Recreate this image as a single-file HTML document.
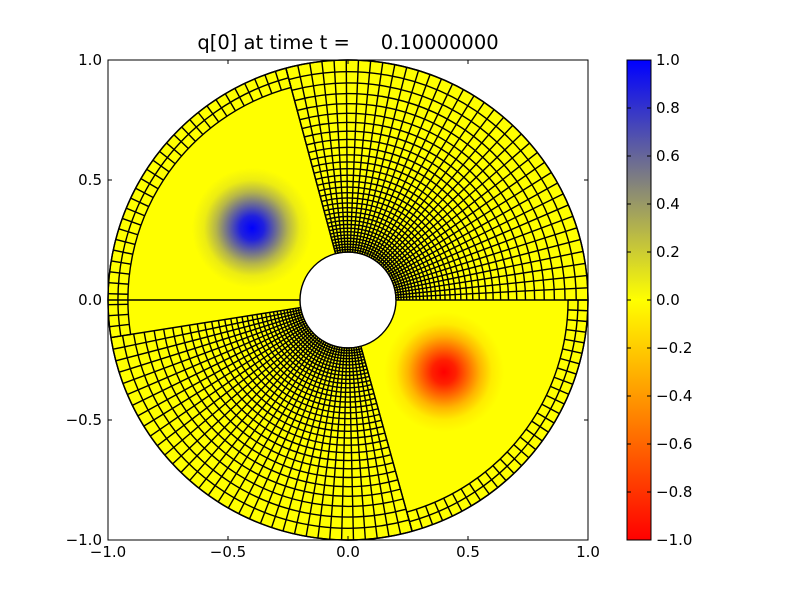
<!DOCTYPE html>
<html><head><meta charset="utf-8"><style>
body{margin:0;background:#fff;width:800px;height:600px;overflow:hidden}
svg{display:block;font-family:"DejaVu Sans","Liberation Sans",sans-serif}
text{white-space:pre}
</style></head><body>
<svg id="c" width="800" height="600" viewBox="0 0 800 600">
<defs>
<radialGradient id="gBlue"><stop offset="0" stop-color="#0000ff"/><stop offset="0.2" stop-color="#2020df"/><stop offset="0.4" stop-color="#6a6a95"/><stop offset="0.6" stop-color="#b5b54a"/><stop offset="0.8" stop-color="#ecec13"/><stop offset="1" stop-color="#ffff00"/></radialGradient>
<radialGradient id="gRed"><stop offset="0" stop-color="#ff0000"/><stop offset="0.2" stop-color="#ff2000"/><stop offset="0.4" stop-color="#ff6a00"/><stop offset="0.6" stop-color="#ffb500"/><stop offset="0.8" stop-color="#ffec00"/><stop offset="1" stop-color="#ffff00"/></radialGradient>
<linearGradient id="gBar" x1="0" y1="0" x2="0" y2="1"><stop offset="0" stop-color="#0000ff"/><stop offset="0.5" stop-color="#ffff00"/><stop offset="1" stop-color="#ff0000"/></linearGradient>
</defs>
<text x="348" y="49" text-anchor="middle" font-size="19.5">q[0] at time t =     0.10000000</text>
<g id="plot"></g>
<rect x="108" y="60" width="480" height="480" fill="none" stroke="#000" stroke-width="1"/>
<g id="axes"></g>
<rect x="627" y="60" width="24" height="480" fill="url(#gBar)" stroke="#000" stroke-width="1"/>
<g id="cbar"></g>
</svg>
<script>
const xTicks=[-1.0,-0.5,0.0,0.5,1.0];
const yTicks=[-1.0,-0.5,0.0,0.5,1.0];
const cbTicks=[1.0,0.8,0.6,0.4,0.2,0.0,-0.2,-0.4,-0.6,-0.8,-1.0];
const rInner=0.2, rOuter=1.0, rRing=0.917;
const finePatchA=[0,105], finePatchC=[189,285.5];
const finePatchACells=36, finePatchCCells=34, fineRows=32;
const coarseB=[105,180], coarseSliver=[180,189], coarseD=[285.5,360];
const ringBCells=32, ringDCells=29;
const blobX=[-0.4,0.4], blobY=[0.3,-0.3], blobValue=[1,-1], blobRadius=[0.25,0.25];

const NS='http://www.w3.org/2000/svg';
const sx=x=>348+240*x, sy=y=>300-240*y;
const rad=d=>d*Math.PI/180;
const px=(r,a)=>sx(r*Math.cos(rad(a))), py=(r,a)=>sy(r*Math.sin(rad(a)));
function mk(tag,attrs,parent){const e=document.createElementNS(NS,tag);for(const k in attrs)e.setAttribute(k,attrs[k]);parent.appendChild(e);return e;}
function arc(r,a0,a1){return `M${px(r,a0)},${py(r,a0)} A${240*r},${240*r} 0 ${a1-a0>180?1:0} 0 ${px(r,a1)},${py(r,a1)}`;}
function wedge(r0,r1,a0,a1){return `M${px(r0,a0)},${py(r0,a0)} L${px(r1,a0)},${py(r1,a0)} A${240*r1},${240*r1} 0 ${a1-a0>180?1:0} 0 ${px(r1,a1)},${py(r1,a1)} L${px(r0,a1)},${py(r0,a1)} A${240*r0},${240*r0} 0 ${a1-a0>180?1:0} 1 ${px(r0,a0)},${py(r0,a0)} Z`;}
const plot=document.getElementById('plot');
const ann=mk('path',{d:`M${sx(1)},300 A240,240 0 1 0 ${sx(-1)},300 A240,240 0 1 0 ${sx(1)},300 Z M${sx(0.2)},300 A48,48 0 1 1 ${sx(-0.2)},300 A48,48 0 1 1 ${sx(0.2)},300 Z`,fill:'#ffff00','fill-rule':'evenodd'},plot);


const defs=document.querySelector('defs');
const clips=[[rInner,rRing,coarseB[0],coarseSliver[1]],[rInner,rRing,coarseD[0],coarseD[1]]];
for(let i=0;i<blobX.length;i++){
  const cp=mk('clipPath',{id:'clip'+i},defs);
  mk('path',{d:wedge(...clips[i])},cp);
  const c=mk('circle',{cx:sx(blobX[i]),cy:sy(blobY[i]),r:240*blobRadius[i],fill:blobValue[i]>0?'url(#gBlue)':'url(#gRed)','clip-path':`url(#clip${i})`},plot);
  
  
}
const grid=mk('g',{stroke:'#000','stroke-width':1.4,fill:'none'},plot);


function finePatch(a0,a1,n){
  for(let i=0;i<=n;i++){const a=a0+(a1-a0)*i/n;mk('path',{d:`M${px(rInner,a)},${py(rInner,a)} L${px(rOuter,a)},${py(rOuter,a)}`},grid);}
  for(let j=0;j<=fineRows;j++){const r=rInner*Math.pow(rOuter/rInner,j/fineRows);mk('path',{d:arc(r,a0,a1)},grid);}
}
finePatch(finePatchA[0],finePatchA[1],finePatchACells);
finePatch(finePatchC[0],finePatchC[1],finePatchCCells);
function ring(a0,a1,n){
  for(let i=0;i<=n;i++){const a=a0+(a1-a0)*i/n;mk('path',{d:`M${px(rRing,a)},${py(rRing,a)} L${px(rOuter,a)},${py(rOuter,a)}`},grid);}
  mk('path',{d:arc(rRing,a0,a1)},grid);
  mk('path',{d:arc((rRing+rOuter)/2,a0,a1)},grid);
  mk('path',{d:arc(rOuter,a0,a1)},grid);
  mk('path',{d:`M${px(rInner,a0)},${py(rInner,a0)} L${px(rOuter,a0)},${py(rOuter,a0)}`},grid);
}
ring(coarseB[0],coarseSliver[1],ringBCells);
ring(coarseD[0],coarseD[1],ringDCells);
mk('path',{d:`M${px(rInner,180)},${py(rInner,180)} L${px(rOuter,180)},${py(rOuter,180)}`},grid);
mk('circle',{cx:348,cy:300,r:240},grid);
mk('circle',{cx:348,cy:300,r:48},grid);
const axes=document.getElementById('axes');
xTicks.forEach(v=>{
  const x=sx(v);
  mk('path',{d:`M${x},540 v-4 M${x},60 v4`,stroke:'#000'},axes);
  const t=mk('text',{x:x,y:557,'text-anchor':'middle','font-size':15},axes);
  t.textContent=v.toFixed(1).replace('-','\u2212');
  
  
});
yTicks.forEach(v=>{
  const y=sy(v);
  mk('path',{d:`M108,${y} h4 M588,${y} h-4`,stroke:'#000'},axes);
  const t=mk('text',{x:102,y:y+5,'text-anchor':'end','font-size':15},axes);
  t.textContent=v.toFixed(1).replace('-','\u2212');
  
  
});
const cb=document.getElementById('cbar');
cbTicks.forEach(v=>{
  const y=300-240*v;
  mk('path',{d:`M627,${y} h4 M651,${y} h-4`,stroke:'#000'},cb);
  const t=mk('text',{x:656,y:y+5,'font-size':15},cb);
  t.textContent=v.toFixed(1).replace('-','\u2212');
  
  
});
</script>
</body></html>
